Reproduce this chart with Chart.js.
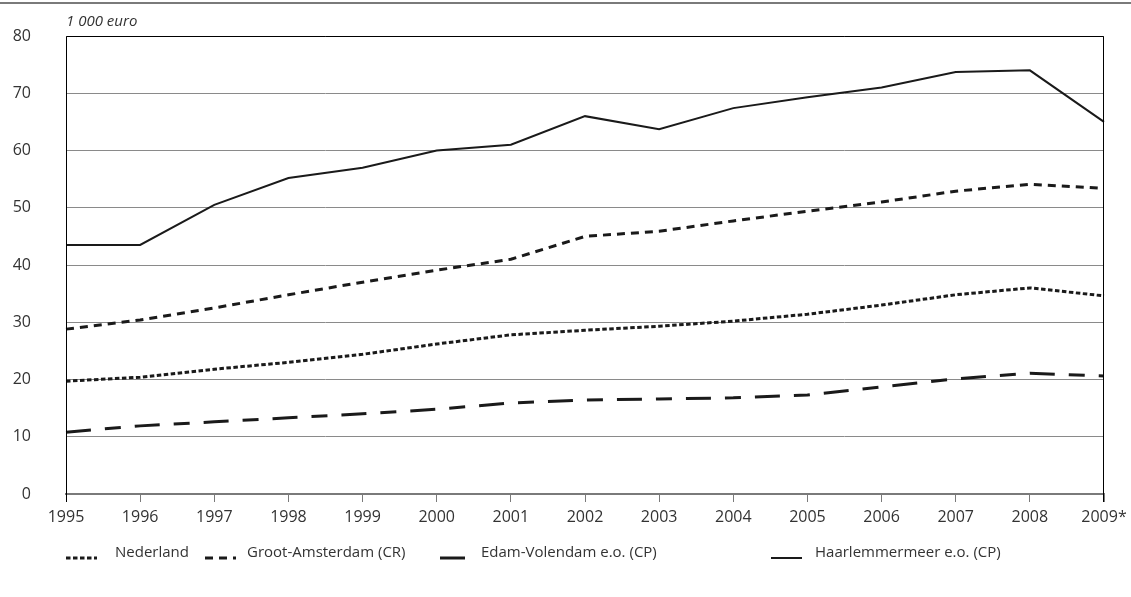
<!DOCTYPE html>
<html>
<head>
<meta charset="utf-8">
<script src="https://cdn.jsdelivr.net/npm/chart.js@4"></script>
<style>
  html, body { margin: 0; padding: 0; background: #fff; }
  #wrap { width: 1131px; height: 597px; position: relative; }
</style>
</head>
<body>
<div id="wrap"><canvas id="myChart" width="1131" height="597"></canvas></div>
<script>
var years = ["1995", "1996", "1997", "1998", "1999", "2000", "2001", "2002",
             "2003", "2004", "2005", "2006", "2007", "2008", "2009*"];
var nederland = [19.7, 20.4, 21.8, 23.0, 24.4, 26.2, 27.8, 28.6, 29.3, 30.2, 31.4, 33.0, 34.8, 36.0, 34.6];
var grootAmsterdam = [28.8, 30.4, 32.5, 34.8, 37.0, 39.1, 41.0, 45.0, 45.9, 47.7, 49.4, 51.0, 52.9, 54.1, 53.4];
var edamVolendam = [10.8, 11.9, 12.6, 13.3, 14.0, 14.8, 15.9, 16.4, 16.6, 16.8, 17.3, 18.7, 20.1, 21.1, 20.6];
var haarlemmermeer = [43.5, 43.5, 50.5, 55.2, 57.0, 60.0, 61.0, 66.0, 63.7, 67.4, 69.3, 71.0, 73.7, 74.0, 65.0];
var yTicks = [0, 10, 20, 30, 40, 50, 60, 70, 80];

var FONT = "'Open Sans', 'Noto Sans', sans-serif";
var TEXT = '#333333';

// legend drawn by hand so the samples sit where the original has them
var legendPos = [
    { sample: 66, text: 115 },
    { sample: 205, text: 247 },
    { sample: 440, text: 481 },
    { sample: 771, text: 815 }
];

var framePlugin = {
    id: 'frame',
    afterDraw: function(chart) {
        var c = chart.ctx, a = chart.chartArea;
        c.save();
        // grey rule at the very top
        c.strokeStyle = '#7a7a7a';
        c.lineWidth = 2;
        c.beginPath(); c.moveTo(0, 3); c.lineTo(chart.width, 3); c.stroke();
        // black frame: top, left, right
        c.strokeStyle = '#000';
        c.lineWidth = 1;
        c.beginPath();
        c.moveTo(a.left + 0.5, a.bottom + 8);
        c.lineTo(a.left + 0.5, a.top + 0.5);
        c.lineTo(a.right - 0.5, a.top + 0.5);
        c.lineTo(a.right - 0.5, a.bottom + 8);
        c.stroke();
        // unit label
        c.fillStyle = TEXT;
        c.font = 'italic 15px ' + FONT;
        c.textBaseline = 'middle';
        c.textAlign = 'left';
        c.fillText('1 000 euro', a.left, 22);
        // legend
        var ly = 553;
        chart.data.datasets.forEach(function(ds, i) {
            var p = legendPos[i];
            c.strokeStyle = ds.borderColor;
            c.lineWidth = ds.borderWidth;
            c.setLineDash(ds.borderDash || []);
            c.beginPath();
            c.moveTo(p.sample, ly + 5);
            c.lineTo(p.sample + 31, ly + 5);
            c.stroke();
            c.setLineDash([]);
            c.fillStyle = TEXT;
            c.font = '15px ' + FONT;
            c.fillText(ds.label, p.text, ly);
        });
        c.restore();
    }
};

var ctx = document.getElementById('myChart');
new Chart(ctx, {
    type: 'line',
    data: {
        labels: years,
        datasets: [
            { label: 'Nederland', data: nederland, borderColor: '#1a1a1a', borderWidth: 3, borderDash: [4.5, 2.5] },
            { label: 'Groot-Amsterdam (CR)', data: grootAmsterdam, borderColor: '#1a1a1a', borderWidth: 3, borderDash: [8, 6] },
            { label: 'Edam-Volendam e.o. (CP)', data: edamVolendam, borderColor: '#1a1a1a', borderWidth: 3, borderDash: [25, 14, 16, 14] },
            { label: 'Haarlemmermeer e.o. (CP)', data: haarlemmermeer, borderColor: '#1a1a1a', borderWidth: 2 }
        ]
    },
    options: {
        responsive: false,
        animation: false,
        elements: { point: { radius: 0 }, line: { tension: 0, borderCapStyle: 'butt' } },
        layout: { padding: { top: 36, right: 27, left: 0, bottom: 0 } },
        plugins: { legend: { display: false }, tooltip: { enabled: false } },
        scales: {
            x: {
                offset: false,
                grid: { drawOnChartArea: false, drawTicks: true, tickLength: 8, color: '#7a7a7a' },
                border: { display: true, color: '#7a7a7a', width: 2 },
                ticks: { color: TEXT, font: { family: FONT, size: 16 }, padding: 6, maxRotation: 0, autoSkip: false },
                afterFit: function(s) { s.height = 103; s.paddingLeft = 0; s.paddingRight = 0; }
            },
            y: {
                min: 0, max: 80,
                afterBuildTicks: function(s) { s.ticks = yTicks.map(function(v) { return { value: v }; }); },
                grid: { drawTicks: false, color: '#8a8a8a' },
                border: { display: false },
                ticks: { color: TEXT, font: { family: FONT, size: 16 }, padding: 35 },
                afterFit: function(s) { s.width = 66; s.paddingTop = 0; s.paddingBottom = 0; }
            }
        }
    },
    plugins: [framePlugin]
});
</script>
</body>
</html>
